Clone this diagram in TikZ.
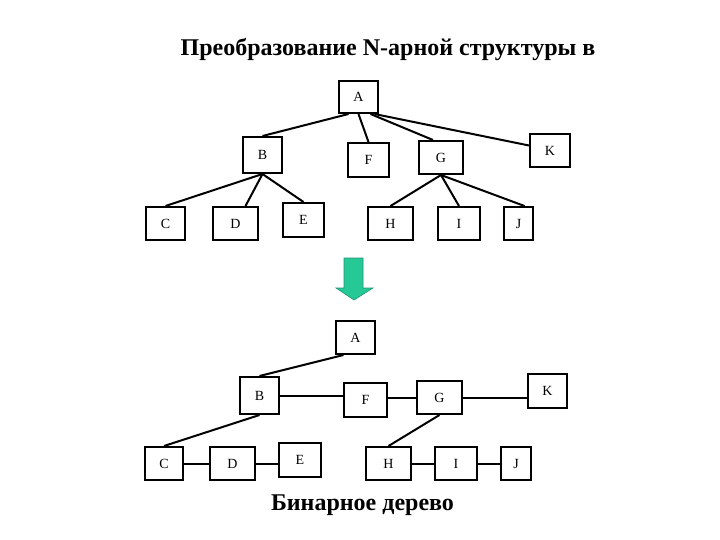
\documentclass[tikz,border=0pt]{standalone}
\usepackage{fontspec}
\setmainfont{Liberation Serif}
\usepackage{tikz}
\usetikzlibrary{positioning}
\definecolor{arrowfill}{RGB}{38,200,150}
\definecolor{arrowline}{RGB}{30,150,115}
\tikzset{
  box/.style={draw, line width=2pt, minimum width=#1, minimum height=33pt, inner sep=0pt, font=\fontsize{14}{16}\selectfont},
  box/.default=40pt,
  edge/.style={line width=2pt},
  heading/.style={font=\fontsize{24}{27}\selectfont\bfseries, anchor=base}
}

\begin{document}
\begin{tikzpicture}[x=1pt, y=-1pt]
\useasboundingbox (0,0) rectangle (720,540);

\node[heading] (title) at (388,56) {Преобразование N-арной структуры в};

\node[box=39pt, minimum height=32pt] (tA) at (358.5,97) {A};
\node[box=39pt, minimum height=36pt] (tB) at (262.5,155) {B};
\node[box=41pt, minimum height=34pt] (tF) at (368.5,160) {F};
\node[box=44pt] (tG) at (441,157.5) {G};
\node[box=40pt] (tK) at (550,150.5) {K};
\node[box=39pt] (tC) at (165.5,223.5) {C};
\node[box=45pt] (tD) at (235.5,223.5) {D};
\node[box=41pt, minimum height=34pt] (tE) at (303.5,220) {E};
\node[box=45pt] (tH) at (390.5,223.5) {H};
\node[box=42pt] (tI) at (459,223.5) {I};
\node[box=29pt] (tJ) at (518.5,223.5) {J};

\draw[edge] ([xshift=-10pt]tA.south) -- (tB.north);
\draw[edge] (tA.south) -- (tF.north);
\draw[edge] ([xshift=12pt]tA.south) -- ([xshift=-8pt]tG.north);
\draw[edge] ([xshift=16pt]tA.south) -- ([yshift=5pt]tK.west);
\draw[edge] (tB.south) -- (tC.north);
\draw[edge] (tB.south) -- ([xshift=10pt]tD.north);
\draw[edge] (tB.south) -- (tE.north);
\draw[edge] (tG.south) -- (tH.north);
\draw[edge] (tG.south) -- (tI.north);
\draw[edge] (tG.south) -- ([xshift=6pt]tJ.north);

\draw[fill=arrowfill, draw=arrowline, line width=0.6pt]
  (344,258) -- (363,258) -- (363,288) -- (373,288) -- (354,300) -- (336,288) -- (344,288) -- cycle;

\node[box=39pt] (bA) at (355.5,337.5) {A};
\node[box=39pt, minimum height=37pt] (bB) at (259.5,395.5) {B};
\node[box=43pt, minimum height=34pt] (bF) at (365.5,400) {F};
\node[box=45pt] (bG) at (439.5,397.5) {G};
\node[box=39pt, minimum height=34pt] (bK) at (547.5,391) {K};
\node[box=38pt] (bC) at (164,463.5) {C};
\node[box=45pt] (bD) at (232.5,463.5) {D};
\node[box=42pt, minimum height=34pt] (bE) at (300,460) {E};
\node[box=45pt] (bH) at (388.5,463.5) {H};
\node[box=42pt] (bI) at (456,463.5) {I};
\node[box=30pt] (bJ) at (516,463.5) {J};

\draw[edge] ([xshift=-12pt]bA.south) -- (bB.north);
\draw[edge] (bB.east) -- (bB.east -| bF.west);
\draw[edge] (bG.west -| bF.east) -- (bG.west);
\draw[edge] (bG.east) -- (bG.east -| bK.west);
\draw[edge] (bB.south) -- (bC.north);
\draw[edge] (bG.south) -- (bH.north);
\draw[edge] (bC.east) -- (bD.west);
\draw[edge] (bD.east) -- (bD.east -| bE.west);
\draw[edge] (bH.east) -- (bI.west);
\draw[edge] (bI.east) -- (bJ.west);

\node[heading] (caption) at (362.5,510) {Бинарное дерево};

\end{tikzpicture}
\end{document}
